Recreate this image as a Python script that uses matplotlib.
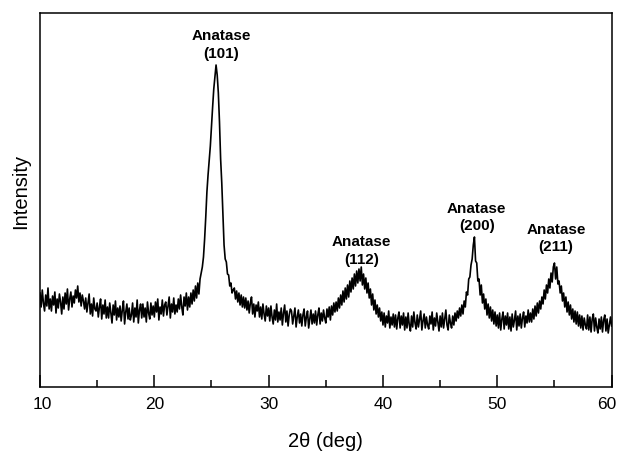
import numpy as np
import matplotlib
matplotlib.use('Agg')
import matplotlib.pyplot as plt
import matplotlib.transforms as mtransforms

plt.rcParams['font.family'] = ['Liberation Sans', 'DejaVu Sans']

# 2theta from 10 to 60 deg, step 0.1
two_theta = np.round(np.arange(10.0, 60.05, 0.1), 1)

# intensity (arb. units), one row per degree
intensity = [
    94, 80, 97, 84, 76, 92, 81, 99, 78, 88,          # 10
    76, 91, 82, 95, 74, 88, 79, 93, 85, 73,          # 11
    90, 78, 94, 83, 98, 77, 88, 95, 80, 91,          # 12
    84, 97, 89, 101, 85, 94, 81, 92, 86, 78,         # 13
    89, 75, 84, 93, 73, 83, 71, 89, 78, 76,          # 14
    84, 70, 80, 88, 68, 82, 73, 87, 69, 80,          # 15
    69, 84, 74, 64, 82, 72, 86, 67, 79, 70,          # 16
    81, 66, 77, 86, 63, 75, 83, 68, 79, 67,          # 17
    72, 84, 65, 79, 70, 87, 64, 77, 83, 69,          # 18
    83, 70, 79, 65, 85, 74, 68, 84, 72, 81,          # 19
    70, 85, 75, 88, 67, 80, 73, 87, 71, 82,          # 20
    85, 72, 81, 90, 69, 83, 75, 89, 73, 82,          # 21
    75, 88, 78, 92, 80, 72, 90, 81, 94, 77,          # 22
    90, 80, 94, 83, 97, 86, 101, 89, 104, 93,        # 23
    108, 114, 120, 130, 148, 170, 195, 212, 227, 241,  # 24
    261, 280, 298, 310, 322, 312, 294, 265, 228, 204,  # 25
    172, 142, 128, 125, 113, 112, 101, 104, 94, 97,    # 26
    99, 88, 96, 85, 94, 82, 92, 80, 90, 79,          # 27
    89, 77, 86, 74, 84, 90, 73, 83, 70, 82,          # 28
    76, 85, 70, 80, 68, 83, 73, 66, 81, 71,          # 29
    79, 66, 81, 70, 63, 77, 67, 83, 65, 75,          # 30
    67, 79, 62, 74, 82, 65, 76, 61, 72, 78,          # 31
    76, 63, 71, 79, 60, 70, 77, 64, 73, 61,          # 32
    72, 78, 61, 70, 76, 59, 68, 77, 63, 73,          # 33
    64, 76, 62, 72, 79, 63, 74, 66, 77, 69,          # 34
    64, 78, 70, 80, 67, 81, 72, 84, 75, 85,          # 35
    76, 89, 79, 92, 82, 96, 85, 99, 88, 102,         # 36
    90, 106, 95, 109, 98, 113, 101, 116, 104, 118,   # 37
    106, 120, 102, 113, 98, 109, 94, 104, 89, 98,    # 38
    82, 93, 77, 87, 73, 82, 70, 79, 66, 75,          # 39
    62, 74, 60, 71, 64, 76, 59, 70, 62, 73,          # 40
    60, 72, 58, 69, 75, 59, 71, 62, 74, 57,          # 41
    70, 59, 74, 62, 56, 71, 60, 75, 64, 58,          # 42
    72, 60, 68, 76, 57, 66, 73, 59, 70, 62,          # 43
    58, 71, 63, 75, 57, 69, 61, 74, 65, 56,          # 44
    71, 60, 74, 59, 68, 77, 62, 57, 72, 64,          # 45
    59, 71, 62, 74, 66, 76, 69, 79, 71, 82,          # 46
    73, 86, 80, 95, 92, 108, 110, 122, 128, 142,     # 47
    150, 126, 124, 106, 108, 92, 102, 84, 93, 78,    # 48
    88, 72, 83, 69, 80, 66, 77, 63, 75, 61,          # 49
    72, 59, 74, 57, 68, 75, 58, 71, 62, 74,          # 50
    58, 70, 56, 73, 60, 67, 76, 57, 71, 61,          # 51
    73, 59, 69, 75, 60, 71, 64, 77, 65, 74,          # 52
    65, 78, 68, 81, 71, 84, 74, 86, 78, 90,          # 53
    83, 97, 88, 102, 94, 108, 99, 114, 105, 120,     # 54
    124, 108, 120, 103, 106, 94, 101, 86, 94, 80,    # 55
    90, 75, 85, 72, 82, 68, 78, 65, 76, 63,          # 56
    75, 61, 72, 59, 71, 57, 69, 62, 58, 72,          # 57
    57, 70, 55, 68, 73, 56, 69, 60, 54, 68,          # 58
    58, 70, 55, 67, 72, 56, 68, 54, 62, 70,          # 59
    61,                                              # 60
]

peak_labels = ['Anatase\n(101)', 'Anatase\n(112)', 'Anatase\n(200)', 'Anatase\n(211)']

fig = plt.figure(figsize=(6.18, 4.53), dpi=100)
ax = fig.add_axes([0.0647, 0.1457, 0.925, 0.8256])

ax.plot(two_theta, intensity, color='black', lw=1.2)

ax.set_xlim(10, 60)
ax.set_ylim(0, 374)
ax.set_xticks([10, 20, 30, 40, 50, 60])
ax.set_xticks([15, 25, 35, 45, 55], minor=True)
ax.set_yticks([])
ax.tick_params(axis='x', which='major', direction='in', length=8.4, width=1.1,
               labelsize=12.5, pad=7)
ax.tick_params(axis='x', which='minor', direction='in', length=5.3, width=1.1)
for s in ax.spines.values():
    s.set_linewidth(1.1)

# nudge the edge labels like in the original
labs = ax.get_xticklabels()
labs[0].set_transform(labs[0].get_transform() + mtransforms.ScaledTranslation(2/100, 0, fig.dpi_scale_trans))
labs[-1].set_transform(labs[-1].get_transform() + mtransforms.ScaledTranslation(-5/100, 0, fig.dpi_scale_trans))

ax.set_xlabel('2θ (deg)', fontsize=14.5)
ax.set_ylabel('Intensity', fontsize=14.5)
ax.xaxis.set_label_coords(0.499, -0.1203)
ax.yaxis.set_label_coords(-0.0175, 0.524)

kw = dict(ha='center', va='center', fontsize=11, fontweight='bold', linespacing=1.3)
ax.text(25.85, 342, peak_labels[0], **kw)
ax.text(38.1, 136, peak_labels[1], **kw)
ax.text(48.2, 169.5, peak_labels[2], **kw)
ax.text(55.15, 148.5, peak_labels[3], **kw)

fig.savefig('out.png', dpi=100)
